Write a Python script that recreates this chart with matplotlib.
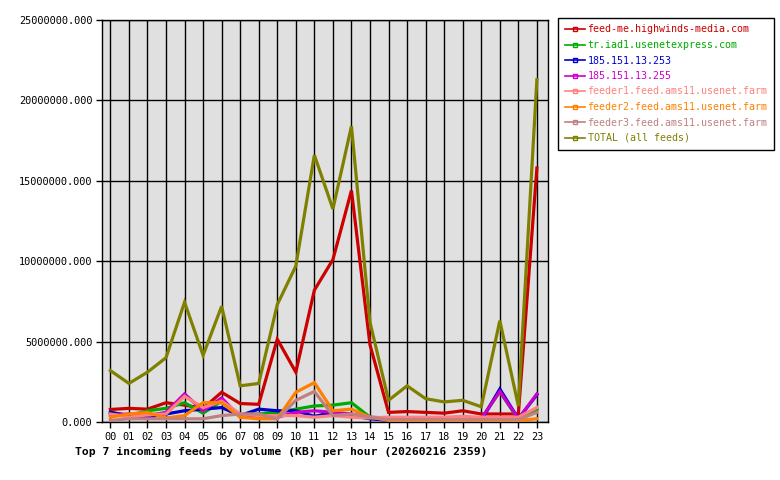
import matplotlib
matplotlib.use('Agg')
import matplotlib.pyplot as plt

hours = ['00', '01', '02', '03', '04', '05', '06', '07', '08', '09', '10', '11',
         '12', '13', '14', '15', '16', '17', '18', '19', '20', '21', '22', '23']

feeds = ['feed-me.highwinds-media.com', 'tr.iad1.usenetexpress.com',
         '185.151.13.253', '185.151.13.255',
         'feeder1.feed.ams11.usenet.farm', 'feeder2.feed.ams11.usenet.farm',
         'feeder3.feed.ams11.usenet.farm', 'TOTAL (all feeds)']
colors = ['#cc0000', '#00aa00', '#0000cc', '#cc00cc',
          '#ff8080', '#ff8000', '#c08080', '#808000']

# values in KB
highwinds = [780000, 850000, 800000, 1200000, 1050000, 850000, 1850000, 1150000,
             1100000, 5150000, 3100000, 8200000, 10100000, 14400000, 4800000, 600000,
             650000, 600000, 550000, 700000, 500000, 500000, 500000, 15800000]
usenetexpress = [600000, 400000, 700000, 850000, 1200000, 550000, 1300000, 400000,
                 500000, 600000, 800000, 1000000, 1050000, 1200000, 300000, 150000,
                 150000, 150000, 150000, 200000, 200000, 1900000, 150000, 800000]
ip253 = [600000, 400000, 300000, 500000, 700000, 800000, 900000, 400000,
         800000, 700000, 700000, 350000, 600000, 400000, 200000, 100000,
         100000, 100000, 100000, 100000, 100000, 2050000, 200000, 1700000]
ip255 = [450000, 500000, 400000, 600000, 1750000, 700000, 1500000, 300000,
         400000, 300000, 600000, 700000, 600000, 500000, 300000, 250000,
         250000, 200000, 200000, 200000, 200000, 1900000, 200000, 1750000]
feeder1 = [500000, 300000, 450000, 500000, 1600000, 900000, 1300000, 500000,
           400000, 400000, 400000, 300000, 400000, 300000, 250000, 300000,
           300000, 300000, 300000, 350000, 300000, 300000, 300000, 900000]
feeder2 = [300000, 500000, 600000, 250000, 400000, 1200000, 1200000, 300000,
           200000, 200000, 1850000, 2450000, 700000, 800000, 300000, 100000,
           100000, 100000, 100000, 100000, 100000, 100000, 100000, 200000]
feeder3 = [100000, 200000, 200000, 200000, 200000, 200000, 400000, 500000,
           500000, 200000, 1350000, 1900000, 400000, 500000, 300000, 150000,
           150000, 150000, 150000, 150000, 150000, 150000, 150000, 600000]
total = [3200000, 2400000, 3100000, 4000000, 7450000, 4150000, 7200000, 2250000,
         2400000, 7300000, 9700000, 16600000, 13250000, 18400000, 6200000, 1350000,
         2250000, 1450000, 1250000, 1350000, 950000, 6300000, 1000000, 21300000]

series = [highwinds, usenetexpress, ip253, ip255, feeder1, feeder2, feeder3, total]

plt.rcParams['font.family'] = ['DejaVu Sans Mono']

fig = plt.figure(figsize=(7.8, 4.8), dpi=100)
ax = fig.add_axes([0.1308, 0.1208, 0.5718, 0.8375])
ax.set_facecolor('#e0e0e0')

x = list(range(len(hours)))
handles = []
for name, vals, c in zip(feeds, series, colors):
    ax.plot(x, vals, color=c, linewidth=2.3, solid_joinstyle='miter', zorder=3)
    h, = ax.plot([], [], color=c, linewidth=1.2, marker='s', markersize=3,
                 markerfacecolor='none', markeredgecolor=c)
    handles.append(h)

ax.set_xlim(-0.45, 23.6)
ax.set_ylim(0, 25000000)
ax.set_xticks(x)
ax.set_xticklabels(hours, fontsize=7.4)
ax.set_yticks(range(0, 25000001, 5000000))
ax.set_yticklabels(['%.3f' % v for v in range(0, 25000001, 5000000)], fontsize=7.4)
ax.tick_params(direction='out', length=4, width=1, color='black', pad=3)
ax.grid(True, color='black', linewidth=1)
ax.set_axisbelow(True)
for s in ax.spines.values():
    s.set_linewidth(1)

leg = fig.legend(handles, feeds, loc='upper left', bbox_to_anchor=(0.7154, 0.9625),
                 borderaxespad=0, fontsize=7.2, handlelength=2.0, handletextpad=0.3,
                 labelspacing=0.55, borderpad=0.65, fancybox=False,
                 edgecolor='black', framealpha=1)
leg.get_frame().set_linewidth(1)
for t, c in zip(leg.get_texts(), colors):
    t.set_color(c)

fig.text(0.096, 0.058, 'Top 7 incoming feeds by volume (KB) per hour (20260216 2359)',
         fontsize=8.2, fontweight='bold', ha='left', va='center')

fig.savefig('out.png', dpi=100)
